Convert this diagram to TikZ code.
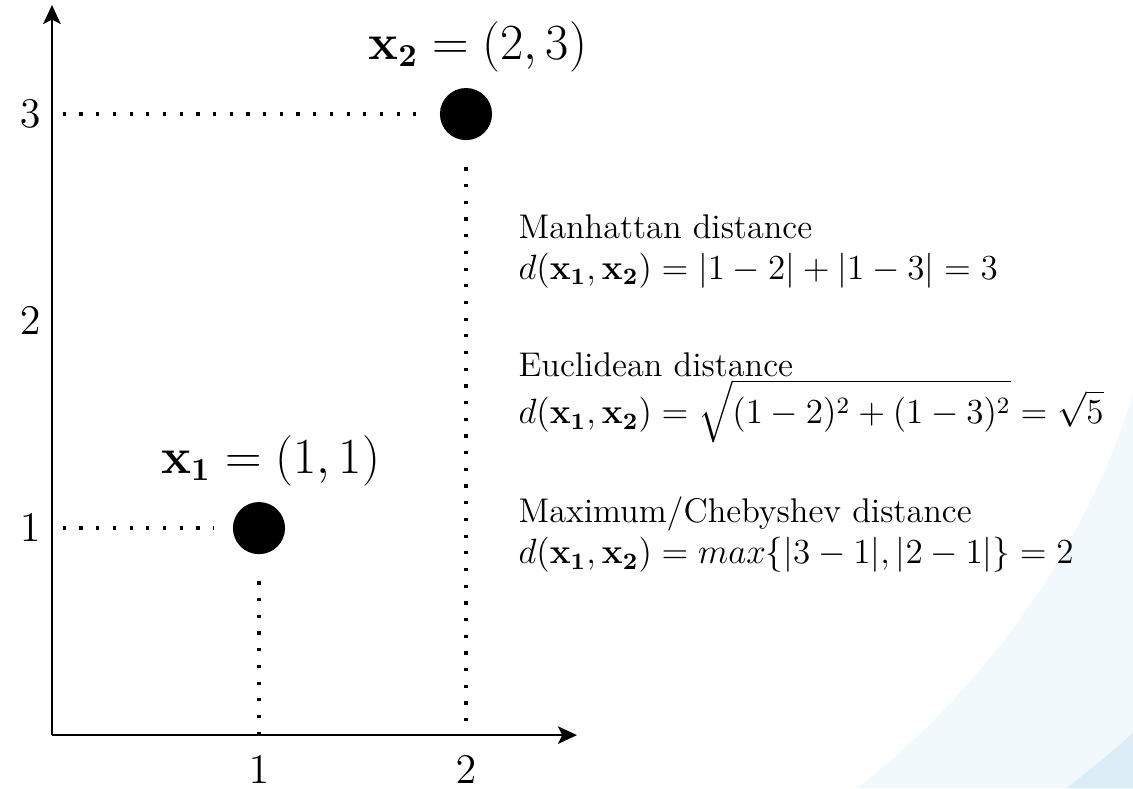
\documentclass[tikz,border=0pt]{standalone}
\usepackage{amsmath,amssymb}
\usepackage{tikz}
\usetikzlibrary{arrows.meta,positioning}
\usepackage{xcolor}
\definecolor{bgpale}{RGB}{241,249,252}
\definecolor{bgblue}{RGB}{221,237,248}

\begin{document}
\begin{tikzpicture}[x=2.485cm, y=2.485cm,
	axis/.style={line width=0.7pt, -{Stealth[length=6.5pt, width=6pt, inset=1.5pt]}},
	guide/.style={line width=1.1pt, dash pattern=on 1.1pt off 4.6pt},
	pt/.style={circle, fill=black, inner sep=0pt, minimum size=17.8pt},
	big/.style={font=\fontsize{15}{18}\selectfont},
	ptlabel/.style={font=\fontsize{16.2}{19}\selectfont, inner sep=0pt, anchor=south},
	txt/.style={font=\fontsize{11.7}{14}\selectfont, align=left, inner sep=0pt}
	]
	\useasboundingbox (-0.251,-0.256) rectangle (5.222,3.551);
	\fill [bgpale] (5.222,1.65) .. controls (4.95,0.75) and (4.35,0.1) .. (3.889,-0.256) -- (5.222,-0.256) -- cycle;
	\fill [bgblue] (5.222,0.01) .. controls (5.12,-0.08) and (5.0,-0.18) .. (4.9,-0.256) -- (5.222,-0.256) -- cycle;
	
	\coordinate (o) at (0,0);
	\coordinate (ytop) at (0,3.527);
	\coordinate (xend) at (2.536,0);
	\draw [axis] (o) -- (ytop);
	\draw [axis] (o) -- (xend);
	
	\foreach \n in {1,2}
		\node [big, inner sep=0pt, anchor=north] (xt\n) at ([yshift=-0.25cm]\n,0) {$\n$};
	\foreach \n in {1,2,3}
		\node [big, inner sep=0pt, anchor=east] (yt\n) at ([xshift=-0.13cm]0,\n) {$\n$};
	
	\foreach \name/\x/\y/\idx in {
		xa/1/1/1,
		xb/2/3/2
	}
	{
		\node [pt] (\name) at (\x,\y) {};
		\node [ptlabel] (\name lbl) at ([xshift=0.14cm, yshift=0.18cm]\name.north) {$\mathbf{x_\idx} = (\x,\y)$};
		\draw [guide] ([xshift=0.13cm]o |- \name) -- ([xshift=-0.22cm]\name.west);
		\draw [guide] ([yshift=-0.32cm]\name.south) -- (\name |- o);
	}
	
	\node [txt, anchor=north west] (manhattan) at (2.251,2.517) {Manhattan distance\\
		$d(\mathbf{x_1},\mathbf{x_2}) = |1-2| + |1-3| = 3$};
	\node [txt, below right=0.76cm and 0cm of manhattan.south west] (euclid) {Euclidean distance\\
		$d(\mathbf{x_1},\mathbf{x_2}) = \displaystyle\sqrt{(1-2)^2 + (1-3)^2} = \sqrt{5}$};
	\node [txt, below right=0.64cm and 0cm of euclid.south west] (cheby) {Maximum/Chebyshev distance\\
		$d(\mathbf{x_1},\mathbf{x_2}) = max\{|3-1|,|2-1|\} = 2$};
\end{tikzpicture}
\end{document}
